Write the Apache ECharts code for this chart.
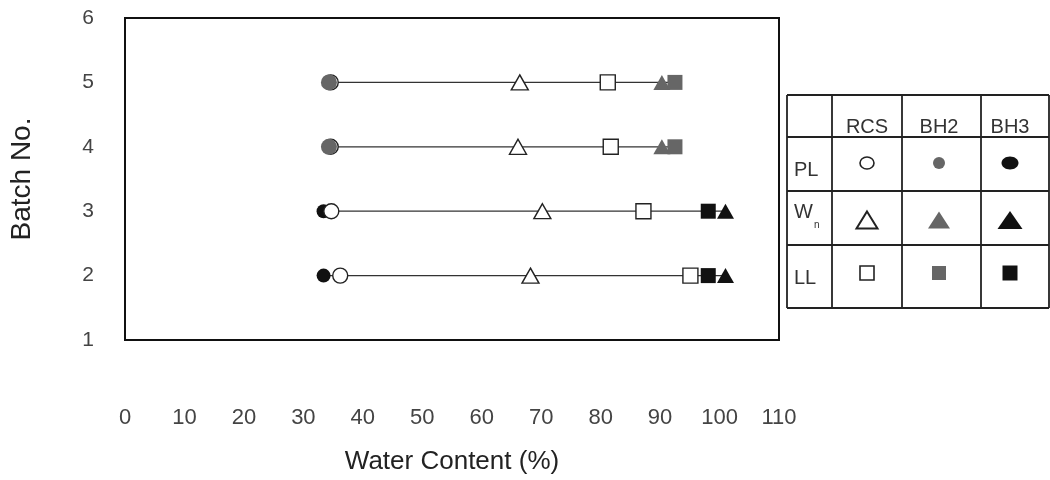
<!DOCTYPE html>
<html>
<head>
<meta charset="utf-8">
<script src="https://cdn.jsdelivr.net/npm/echarts@6/dist/echarts.min.js"></script>
<style>
html,body{margin:0;padding:0;background:#fff;}
#chart{width:1050px;height:480px;}
</style>
</head>
<body>
<div id="chart"></div>
<script>
// ---- data ----
const batches = [2, 3, 4, 5];
const rcsPL = [36.2, 34.7, 34.6, 34.6];
const rcsWn = [68.2, 70.2, 66.1, 66.4];
const rcsLL = [95.1, 87.2, 81.7, 81.2];
const bh2PL = [null, null, 34.3, 34.3];
const bh2Wn = [null, null, 90.3, 90.3];
const bh2LL = [null, null, 92.5, 92.5];
const bh3PL = [33.4, 33.4, null, null];
const bh3Wn = [101.0, 101.0, null, null];
const bh3LL = [98.1, 98.1, null, null];
const xTicks = [0, 10, 20, 30, 40, 50, 60, 70, 80, 90, 100, 110];
const yTicks = [1, 2, 3, 4, 5, 6];
const tableCols = ['RCS', 'BH2', 'BH3'];
const tableRows = ['PL', 'W', 'LL'];
const xName = 'Water Content (%)';
const yName = 'Batch No.';

// ---- build ----
const chart = echarts.init(document.getElementById('chart'));
const font = 'Liberation Sans, Arial, sans-serif';
const GRAY = '#666', BLACK = '#111', OPEN = '#fff', EDGE = '#222';

function pts(arr) {
  return batches.map((b, i) => arr[i] == null ? null : [arr[i], b]).filter(p => p);
}
const allSeries = [rcsPL, rcsWn, rcsLL, bh2PL, bh2Wn, bh2LL, bh3PL, bh3Wn, bh3LL];
const lineSeries = batches.map((b, i) => {
  const vals = allSeries.map(a => a[i]).filter(v => v != null);
  return {
    type: 'line', z: 1, symbol: 'none', silent: true,
    lineStyle: { color: '#333', width: 1.3 },
    data: [[Math.min(...vals), b], [Math.max(...vals), b]]
  };
});
function sc(arr, symbol, size, fill, z) {
  return {
    type: 'scatter', z: z, symbol: symbol, symbolSize: size,
    itemStyle: { color: fill, borderColor: fill === OPEN ? EDGE : fill, borderWidth: fill === OPEN ? 1.4 : 0, opacity: 1 },
    data: pts(arr)
  };
}
const scatterSeries = [
  sc(rcsPL, 'circle', 15, OPEN, 3),
  sc(rcsWn, 'triangle', [17, 15], OPEN, 3),
  sc(rcsLL, 'rect', 15, OPEN, 3),
  sc(bh2PL, 'circle', 16, GRAY, 4),
  sc(bh2Wn, 'triangle', [17, 15], GRAY, 4),
  sc(bh2LL, 'rect', 15, GRAY, 4),
  sc(bh3PL, 'circle', 14, BLACK, 2),
  sc(bh3LL, 'rect', 15, BLACK, 4),
  sc(bh3Wn, 'triangle', [17, 15], BLACK, 4)
];

// ---- table legend (graphic) ----
const vx = [787, 832, 902, 981, 1049];
const hy = [95, 137, 191, 245, 308];
const g = [];
vx.forEach(x => g.push({ type: 'line', shape: { x1: x, y1: hy[0], x2: x, y2: hy[hy.length - 1] }, style: { stroke: '#222', lineWidth: 1.8 } }));
hy.forEach(y => g.push({ type: 'line', shape: { x1: vx[0], y1: y, x2: vx[vx.length - 1], y2: y }, style: { stroke: '#222', lineWidth: 1.8 } }));
const colCx = [867, 939, 1010];
tableCols.forEach((t, i) => g.push({ type: 'text', x: colCx[i], y: 127, style: { text: t, fill: '#333', font: '20px ' + font, textAlign: 'center', textVerticalAlign: 'middle' } }));
const rowCy = [170, 212, 278];
tableRows.forEach((t, i) => g.push({ type: 'text', x: 794, y: rowCy[i], style: { text: t, fill: '#333', font: '20px ' + font, textAlign: 'left', textVerticalAlign: 'middle' } }));
g.push({ type: 'text', x: 814, y: 225, style: { text: 'n', fill: '#333', font: '10px ' + font, textAlign: 'left', textVerticalAlign: 'middle' } });
const symY = [163, 220, 273];
g.push({ type: 'ellipse', shape: { cx: colCx[0], cy: symY[0], rx: 7, ry: 6 }, style: { fill: '#fff', stroke: '#222', lineWidth: 1.6 } });
g.push({ type: 'circle', shape: { cx: colCx[1], cy: symY[0], r: 6 }, style: { fill: GRAY } });
g.push({ type: 'ellipse', shape: { cx: colCx[2], cy: symY[0], rx: 8.5, ry: 6.5 }, style: { fill: BLACK } });
function tri(cx, cy, w, h) { return [[cx, cy - h / 2], [cx + w / 2, cy + h / 2], [cx - w / 2, cy + h / 2]]; }
g.push({ type: 'polygon', shape: { points: tri(colCx[0], symY[1], 21, 17) }, style: { fill: '#fff', stroke: '#222', lineWidth: 2 } });
g.push({ type: 'polygon', shape: { points: tri(colCx[1], symY[1], 22, 17) }, style: { fill: GRAY } });
g.push({ type: 'polygon', shape: { points: tri(colCx[2], symY[1], 25, 18) }, style: { fill: BLACK } });
g.push({ type: 'rect', shape: { x: colCx[0] - 7, y: symY[2] - 7, width: 14, height: 14 }, style: { fill: '#fff', stroke: '#222', lineWidth: 1.6 } });
g.push({ type: 'rect', shape: { x: colCx[1] - 7, y: symY[2] - 7, width: 14, height: 14 }, style: { fill: GRAY } });
g.push({ type: 'rect', shape: { x: colCx[2] - 7.5, y: symY[2] - 7.5, width: 15, height: 15 }, style: { fill: BLACK } });

chart.setOption({
  animation: false,
  backgroundColor: '#fff',
  grid: { left: 123, right: 271, top: 18, bottom: 135, show: true, borderColor: '#111', borderWidth: 2, backgroundColor: 'transparent' },
  xAxis: {
    type: 'value', min: 0, max: 110, interval: 10,
    name: xName, nameLocation: 'middle', nameGap: 109,
    nameTextStyle: { fontSize: 26, color: '#222', fontFamily: font },
    axisLine: { show: false }, axisTick: { show: false }, splitLine: { show: false },
    axisLabel: { margin: 67, fontSize: 22, color: '#444', fontFamily: font, customValues: xTicks }
  },
  yAxis: {
    type: 'value', min: 1, max: 6, interval: 1,
    name: yName, nameLocation: 'middle', nameGap: 89,
    nameTextStyle: { fontSize: 28, color: '#222', fontFamily: font },
    axisLine: { show: false }, axisTick: { show: false }, splitLine: { show: false },
    axisLabel: { margin: 31, fontSize: 21, color: '#444', fontFamily: font, padding: [8, 0, 0, 0], customValues: yTicks }
  },
  graphic: g,
  series: lineSeries.concat(scatterSeries)
});
</script>
</body>
</html>
